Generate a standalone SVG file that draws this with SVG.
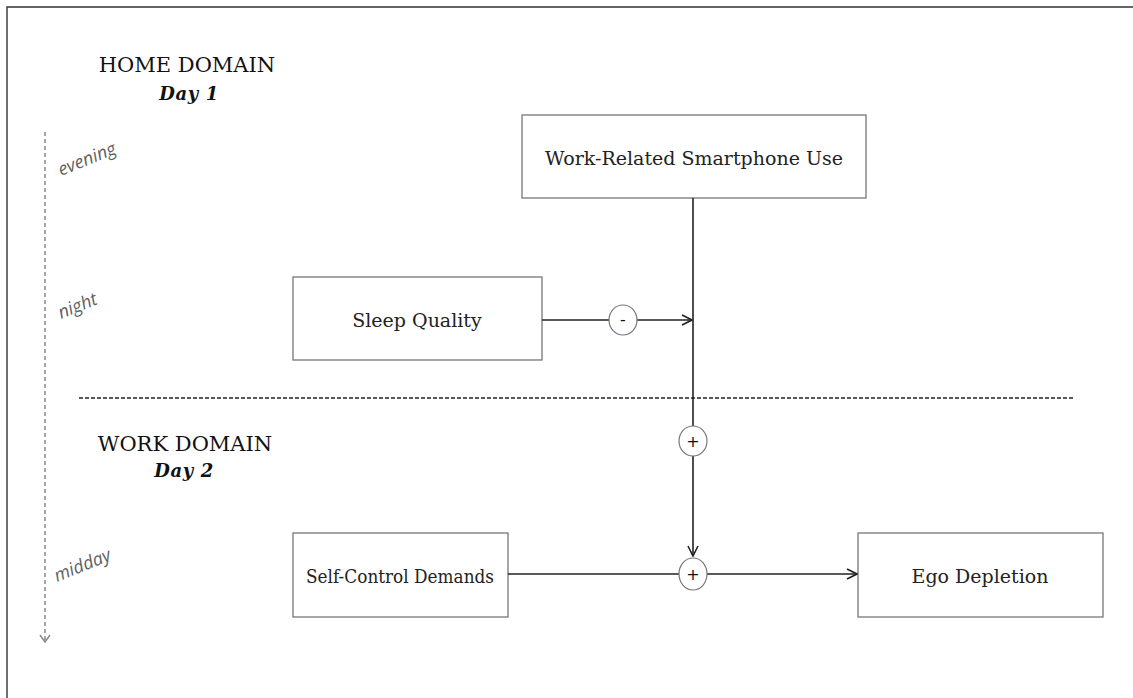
<svg xmlns="http://www.w3.org/2000/svg" width="1133" height="698" viewBox="0 0 1133 698">
  <style>
    .frame { fill: none; stroke: #333; stroke-width: 1.4; }
    .box { fill: #fff; stroke: #777; stroke-width: 1.3; }
    .label { font-family: "DejaVu Serif", "Liberation Serif", serif; font-size: 19px; fill: #222; text-anchor: middle; }
    .domain { font-family: "DejaVu Serif", "Liberation Serif", serif; font-size: 21px; fill: #111; text-anchor: middle; }
    .day { font-family: "DejaVu Serif", "Liberation Serif", serif; font-size: 18px; font-weight: bold; font-style: italic; fill: #111; text-anchor: middle; letter-spacing: 0.6px; }
    .time { font-family: "Open Sans", "Noto Sans", sans-serif; font-size: 18px; font-style: italic; fill: #5f5f5f; }
    .edge { fill: none; stroke: #222; stroke-width: 1.6; }
    .sign { fill: #fff; stroke: #777; stroke-width: 1.2; }
    .signtext { font-family: "DejaVu Sans", "Liberation Sans", sans-serif; font-size: 16px; fill: #111; text-anchor: middle; }
  </style>
  <defs>
    <marker id="arrow" viewBox="0 0 12 12" refX="11" refY="6" markerWidth="12" markerHeight="12" markerUnits="userSpaceOnUse" orient="auto">
      <path d="M1,1 L11,6 L1,11" fill="none" stroke="#222" stroke-width="1.6"/>
    </marker>
    <marker id="arrowGray" viewBox="0 0 12 12" refX="6" refY="11" markerWidth="12" markerHeight="12" markerUnits="userSpaceOnUse" orient="0">
      <path d="M1,4 L6,11 L11,4" fill="none" stroke="#888" stroke-width="1.5"/>
    </marker>
  </defs>

  <!-- outer frame (top and left edges) -->
  <path class="frame" d="M7,698 L7,7 L1133,7"/>

  <!-- domain headings -->
  <g id="home-domain">
    <text class="domain" x="187" y="72">HOME DOMAIN</text>
    <text class="day" x="189" y="100">Day 1</text>
  </g>
  <g id="work-domain">
    <text class="domain" x="185" y="451">WORK DOMAIN</text>
    <text class="day" x="184" y="477">Day 2</text>
  </g>

  <!-- timeline -->
  <g id="timeline">
    <line x1="45" y1="132" x2="45" y2="642" stroke="#888" stroke-width="1.5" stroke-dasharray="4,3" marker-end="url(#arrowGray)"/>
    <text class="time" transform="translate(61,176) rotate(-22)">evening</text>
    <text class="time" transform="translate(61,319) rotate(-22)">night</text>
    <text class="time" transform="translate(57,582) rotate(-22)">midday</text>
  </g>

  <!-- day boundary -->
  <line id="day-boundary" x1="79" y1="398" x2="1073" y2="398" stroke="#222" stroke-width="1.3" stroke-dasharray="4,2"/>

  <!-- nodes -->
  <g id="smartphone-use">
    <rect class="box" x="522" y="115" width="344" height="83"/>
    <text class="label" x="694" y="165">Work-Related Smartphone Use</text>
  </g>
  <g id="sleep-quality">
    <rect class="box" x="293" y="277" width="249" height="83"/>
    <text class="label" x="417" y="327">Sleep Quality</text>
  </g>
  <g id="self-control-demands">
    <rect class="box" x="293" y="533" width="215" height="84"/>
    <text class="label" x="400" y="583" textLength="188" lengthAdjust="spacingAndGlyphs">Self-Control Demands</text>
  </g>
  <g id="ego-depletion">
    <rect class="box" x="858" y="533" width="245" height="84"/>
    <text class="label" x="980" y="583">Ego Depletion</text>
  </g>

  <!-- connectors -->
  <g id="connectors">
    <line class="edge" x1="693" y1="198" x2="693" y2="556" marker-end="url(#arrow)"/>
    <line class="edge" x1="542" y1="320" x2="692" y2="320" marker-end="url(#arrow)"/>
    <line class="edge" x1="508" y1="574" x2="857" y2="574" marker-end="url(#arrow)"/>

    <ellipse class="sign" cx="623" cy="320" rx="14" ry="15"/>
    <text class="signtext" x="623" y="325">-</text>

    <ellipse class="sign" cx="693" cy="441" rx="14" ry="15"/>
    <text class="signtext" x="693" y="447">+</text>

    <ellipse class="sign" cx="693" cy="574" rx="14" ry="16"/>
    <text class="signtext" x="693" y="580">+</text>
  </g>
</svg>
